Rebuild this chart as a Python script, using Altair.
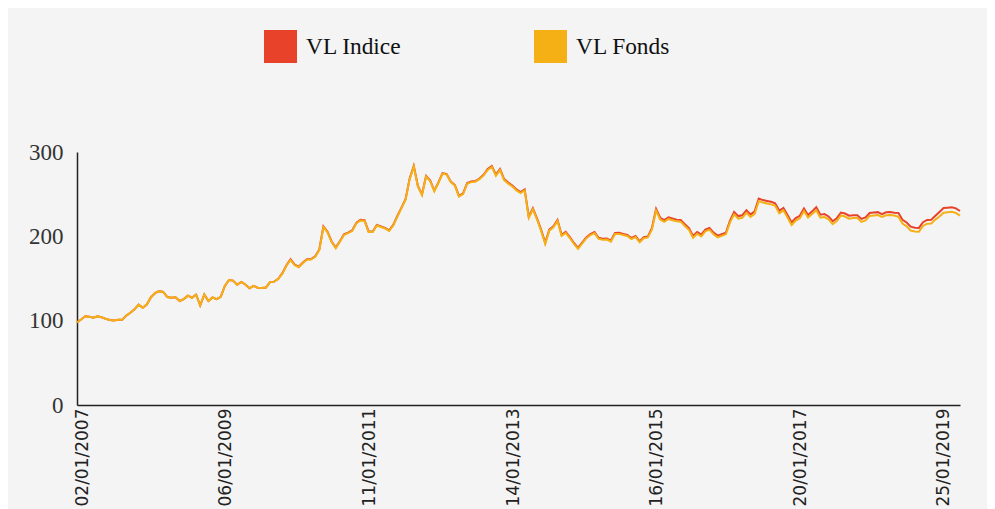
import altair as alt
import pandas as pd

# Valeurs liquidatives (lecture du graphique), un point toutes les 3 semaines
fonds = [
    98, 101.4, 105.3, 104.7, 103.5, 105.2, 104, 102.1, 100.9, 100.1,
    101.2, 101, 106, 109.3, 113.4, 119, 115.3, 119.2, 127.8, 132.6,
    135, 134, 128, 127.1, 127.8, 123.3, 125.6, 129.6, 127.2, 131,
    118, 131.1, 123.4, 127.5, 125.6, 128.3, 141.2, 148.2, 147.5, 142.6,
    145.9, 142.9, 138.4, 141.2, 139, 138.7, 139.3, 145.7, 146.3, 149.6,
    155.7, 165.1, 172.1, 165.7, 163.4, 168.3, 172.2, 172.4, 175.7, 183.7,
    211, 204.7, 193.2, 185.9, 193.5, 201.6, 203.7, 206.2, 215.3, 218.8,
    218.5, 205.1, 205.1, 212.9, 211.1, 209.3, 206.3, 212.9, 223.4, 233.4,
    243.4, 267.8, 282.8, 259.2, 249, 271, 265.4, 253.5, 263.2, 274.3,
    273.2, 264.4, 260.2, 247.2, 250.2, 262.4, 264.3, 264.8, 267.8, 272.3,
    278.7, 282.3, 271.9, 278.5, 266.7, 262.5, 259.1, 254.4, 251.2, 254.4,
    222, 232.1, 220.2, 206.8, 191, 206.8, 210.7, 218.3, 200.5, 204.1,
    198, 190.9, 185, 191.5, 197.6, 201.5, 203.8, 197.1, 195.9, 196.2,
    193.8, 202.8, 202.9, 201.6, 200.4, 196.8, 199.1, 192.9, 197.8, 198.7,
    208.1, 230.6, 220, 217.2, 220.6, 219.1, 217.8, 217.4, 212.3, 207.8,
    198.3, 203.1, 200, 206, 208, 202.4, 198.9, 200.6, 202.4, 216.6,
    226, 221, 222, 228, 222.9, 226.6, 241.8, 240, 238.9, 237.9,
    236.2, 227.4, 230.8, 222.2, 213.4, 218.7, 221.3, 230, 222.3, 226.6,
    231, 222.2, 222.9, 220.1, 214.4, 218, 224.7, 223.5, 220.9, 221.6,
    221.6, 217.2, 218.9, 224.2, 224.8, 225.2, 222.9, 225, 225.3, 224.6,
    223.2, 215.1, 211.9, 206.9, 205.7, 205.5, 212.3, 215, 215.2, 219.8,
    223.4, 228, 228.5, 229, 227.7, 224.5,
]

indice = [
    98, 101.4, 105.3, 104.7, 103.5, 105.2, 104, 102.1, 100.9, 100.1,
    101.2, 101, 106, 109.3, 113.4, 119, 115.3, 119.2, 127.8, 132.6,
    135, 134, 128, 127.1, 127.8, 123.3, 125.6, 129.6, 127.2, 131,
    118, 131.1, 123.4, 127.5, 125.6, 128.3, 141.2, 148.2, 147.5, 142.6,
    145.9, 142.9, 138.4, 141.2, 139, 138.7, 139.3, 145.7, 146.3, 149.6,
    156.4, 165.8, 172.8, 166.4, 164.1, 169, 172.9, 173.1, 176.4, 184.4,
    211.7, 205.4, 193.9, 186.6, 194.2, 202.3, 204.4, 206.9, 216, 219.5,
    219.2, 205.8, 205.8, 213.6, 211.8, 210, 207, 213.6, 224.1, 234.1,
    244.1, 268.5, 283.5, 259.9, 249.7, 271.7, 266.1, 254.2, 263.9, 275,
    273.9, 265.1, 260.9, 247.9, 250.9, 263.1, 265, 265.5, 268.5, 273,
    279.9, 283.5, 273.1, 279.7, 267.9, 263.7, 260.3, 255.6, 252.4, 255.6,
    223.2, 233.3, 221.4, 208, 192.2, 208, 211.9, 219.5, 201.7, 205.3,
    199.2, 192.1, 186.2, 192.7, 198.8, 202.7, 205, 198.3, 197.1, 197.4,
    195, 204, 204.1, 202.8, 201.6, 198, 200.3, 194.1, 199, 199.9,
    210.1, 232.6, 222, 219.2, 222.6, 221.1, 219.8, 219.4, 214.3, 209.8,
    200.3, 205.1, 202, 208, 210, 204.4, 200.9, 202.6, 204.4, 218.6,
    229, 224, 225, 231, 225.9, 229.6, 244.8, 243, 241.9, 240.9,
    239.2, 230.4, 233.8, 225.2, 216.4, 221.7, 224.3, 233, 225.3, 229.6,
    234.5, 225.7, 226.4, 223.6, 217.9, 221.5, 228.2, 227, 224.4, 225.1,
    225.1, 220.7, 222.4, 227.7, 228.3, 228.7, 226.4, 228.5, 228.8, 228.1,
    227.7, 219.6, 216.4, 211.4, 210.2, 210, 216.8, 219.5, 219.7, 224.3,
    228.9, 233.5, 234, 234.5, 233.2, 230,
]

series_names = ["VL Indice", "VL Fonds"]
series_colors = ["#E8432A", "#F5B015"]
tick_dates = ["2007-01-02", "2009-01-06", "2011-01-11", "2013-01-14",
              "2015-01-16", "2017-01-20", "2019-01-25"]
y_ticks = [0, 100, 200, 300]

dates = pd.date_range("2006-12-07", periods=len(fonds), freq="21D")
df = pd.DataFrame({"date": dates, "VL Indice": indice, "VL Fonds": fonds})
long = df.melt("date", var_name="serie", value_name="v")

tick_values = []
for s in tick_dates:
    yy, mm, dd = s.split("-")
    tick_values.append(alt.DateTime(year=int(yy), month=int(mm), date=int(dd)))

x_enc = alt.X(
    "date:T",
    scale=alt.Scale(nice=False),
    axis=alt.Axis(
        values=tick_values, format="%d/%m/%Y", labelAngle=-90,
        labelFont="DejaVu Sans", labelFontSize=17, labelColor="#222",
        ticks=False, grid=False, labelPadding=3, labelFlush=False,
        labelOverlap=False, domainColor="#222", domainWidth=1.5, title=None,
    ),
)
y_enc = alt.Y(
    "v:Q",
    scale=alt.Scale(domain=[0, 300], nice=False),
    axis=alt.Axis(
        values=y_ticks, ticks=False, grid=False, labelFont="Liberation Serif",
        labelFontSize=23, labelColor="#333", labelPadding=14,
        domainColor="#222", domainWidth=1.5, title=None,
    ),
)

base = alt.Chart(long).encode(x=x_enc, y=y_enc)

line_indice = base.transform_filter(alt.datum.serie == "VL Indice").mark_line(
    strokeWidth=2, color=series_colors[0]
)
line_fonds = base.transform_filter(alt.datum.serie == "VL Fonds").mark_line(
    strokeWidth=2, color=series_colors[1]
)

legend_layer = alt.Chart(long).transform_filter("datum.v < -1000").mark_square().encode(
    fill=alt.Fill(
        "serie:N",
        scale=alt.Scale(domain=series_names, range=series_colors),
        legend=alt.Legend(
            title=None, orient="none", legendX=187, legendY=-122,
            direction="horizontal", symbolType="square", symbolSize=1089,
            symbolStrokeWidth=0, symbolOpacity=1, labelFont="Liberation Serif",
            labelFontSize=23.4, labelColor="#111", labelOffset=9,
            columnPadding=132, padding=0,
        ),
    )
)

chart = alt.layer(line_indice, line_fonds, legend_layer).properties(
    width=883,
    height=253,
    background="#f4f4f4",
    padding={"left": 69, "top": 144, "right": 27, "bottom": 104},
    autosize=alt.AutoSizeParams(type="none"),
).configure_view(stroke=None)

chart.save("out.html", embed_options={"renderer": "svg", "actions": False})
